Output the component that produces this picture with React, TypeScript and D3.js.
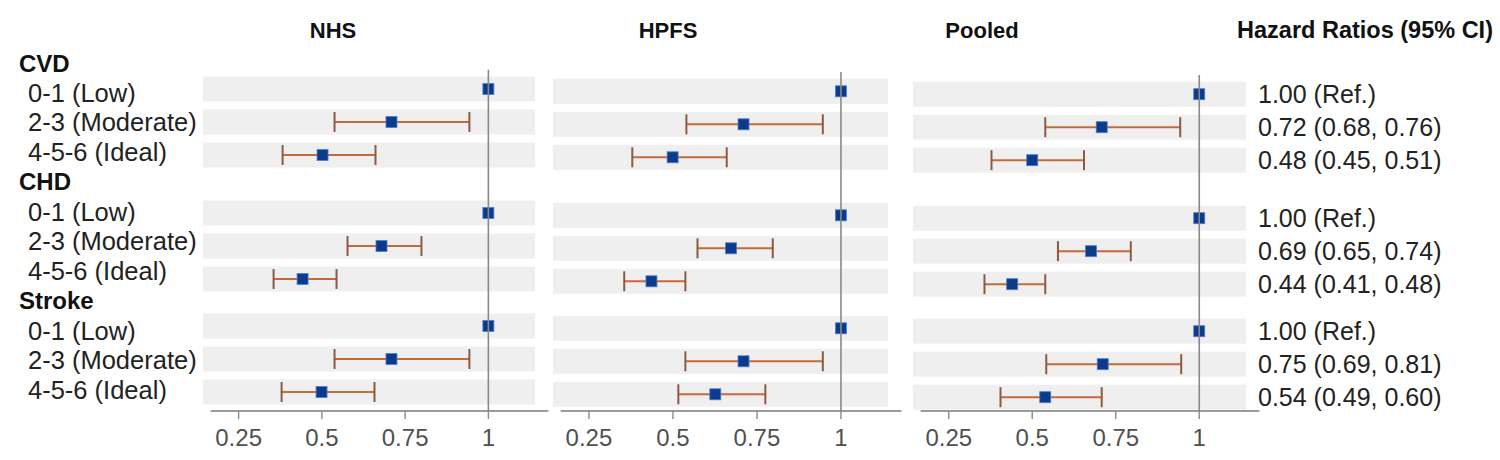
import React from "react";
import * as d3 from "d3";

// ---------- data ----------
const panelTitles = ["NHS", "HPFS", "Pooled"];
const outcomes = ["CVD", "CHD", "Stroke"];
const levels = ["0-1 (Low)", "2-3 (Moderate)", "4-5-6 (Ideal)"];

// estimate, lower, upper per row (outcome x level); reference rows have no CI
const nhsEst = [1, 0.709, 0.502, 1, 0.679, 0.442, 1, 0.709, 0.499];
const nhsLo = [1, 0.538, 0.382, 1, 0.577, 0.355, 1, 0.538, 0.379];
const nhsHi = [1, 0.943, 0.661, 1, 0.799, 0.544, 1, 0.943, 0.658];

const hpfsEst = [1, 0.71, 0.499, 1, 0.673, 0.436, 1, 0.71, 0.626];
const hpfsLo = [1, 0.54, 0.379, 1, 0.573, 0.355, 1, 0.537, 0.516];
const hpfsHi = [1, 0.946, 0.66, 1, 0.797, 0.537, 1, 0.946, 0.775];

const pooledEst = [1, 0.708, 0.5, 1, 0.676, 0.44, 1, 0.711, 0.539];
const pooledLo = [1, 0.539, 0.378, 1, 0.577, 0.357, 1, 0.542, 0.405];
const pooledHi = [1, 0.943, 0.655, 1, 0.795, 0.539, 1, 0.946, 0.708];

const hrLabels = [
  "1.00 (Ref.)",
  "0.72 (0.68, 0.76)",
  "0.48 (0.45, 0.51)",
  "1.00 (Ref.)",
  "0.69 (0.65, 0.74)",
  "0.44 (0.41, 0.48)",
  "1.00 (Ref.)",
  "0.75 (0.69, 0.81)",
  "0.54 (0.49, 0.60)",
];
const hrTitle = "Hazard Ratios (95% CI)";
const tickValues = [0.25, 0.5, 0.75, 1];
const tickLabels = ["0.25", "0.5", "0.75", "1"];

// ---------- layout ----------
const FONT = "'Liberation Sans', Arial, Helvetica, sans-serif";
const panels = [
  { title: panelTitles[0], est: nhsEst, lo: nhsLo, hi: nhsHi, left: 203, right: 535, dy: -2.3, titleX: 333 },
  { title: panelTitles[1], est: hpfsEst, lo: hpfsLo, hi: hpfsHi, left: 553, right: 888, dy: 0, titleX: 668 },
  { title: panelTitles[2], est: pooledEst, lo: pooledLo, hi: pooledHi, left: 913, right: 1246, dy: 2.9, titleX: 982 },
];
const X_DOMAIN: [number, number] = [0.143, 1.14];
const ROW_Y0 = 91.3;
const ROW_STEP = 33;
const GROUP_SHIFT = [0, 25, 39];
const AXIS_Y = 411;
const BAND_H = 25;

const rowY = (i: number) => ROW_Y0 + i * ROW_STEP + GROUP_SHIFT[Math.floor(i / 3)];

// left-hand label column: one slot per header and per level
const labelSlots = d3.range(outcomes.length * (levels.length + 1));
const labelY = d3.scalePoint<number>().domain(labelSlots).range([63, 390]);

function Panel({ p }: { p: (typeof panels)[number] }) {
  const x = d3.scaleLinear().domain(X_DOMAIN).range([p.left, p.right]);
  const rows = d3.range(p.est.length);
  const capH = 20;
  return (
    <g>
      <text x={p.titleX} y={38} textAnchor="middle" fontFamily={FONT} fontWeight="bold" fontSize={22} fill="#111">
        {p.title}
      </text>
      {rows.map((i) => (
        <rect key={"b" + i} x={p.left} width={p.right - p.left} y={rowY(i) + p.dy - BAND_H / 2} height={BAND_H} fill="#efefef" />
      ))}
      {rows.map((i) => {
        const y = rowY(i) + p.dy;
        if (p.lo[i] === p.hi[i]) return null;
        return (
          <g key={"ci" + i}>
            <line x1={x(p.lo[i])} x2={x(p.hi[i])} y1={y} y2={y} stroke="#c66a3c" strokeWidth={2} />
            <line x1={x(p.lo[i])} x2={x(p.lo[i])} y1={y - capH / 2} y2={y + capH / 2} stroke="#8a5a45" strokeWidth={2} />
            <line x1={x(p.hi[i])} x2={x(p.hi[i])} y1={y - capH / 2} y2={y + capH / 2} stroke="#8a5a45" strokeWidth={2} />
          </g>
        );
      })}
      {rows.map((i) => {
        const y = rowY(i) + p.dy;
        return (
          <rect key={"m" + i} x={x(p.est[i]) - 5.5} y={y - 5.5} width={11} height={11} fill="#0c3a8c" stroke="#4f7fcf" strokeWidth={0.8} />
        );
      })}
      <line x1={x(1)} x2={x(1)} y1={72 + p.dy} y2={AXIS_Y} stroke="#8a8a8a" strokeWidth={1.6} />
      <line x1={x(0.166)} x2={x(1.18)} y1={AXIS_Y} y2={AXIS_Y} stroke="#7a7a7a" strokeWidth={1.6} />
      {tickValues.map((t, k) => (
        <g key={"t" + k}>
          <line x1={x(t)} x2={x(t)} y1={AXIS_Y} y2={AXIS_Y + 8} stroke="#8a8a8a" strokeWidth={1.4} />
          <text x={x(t)} y={AXIS_Y + 35} textAnchor="middle" fontFamily={FONT} fontSize={24} fill="#505050">
            {tickLabels[k]}
          </text>
        </g>
      ))}
    </g>
  );
}

export default function App() {
  const pooled = panels[2];
  const per = levels.length + 1;
  return (
    <svg width={1500} height={460} style={{ position: "absolute", left: 0, top: 0, background: "#fff" }}>
      <rect width={1500} height={460} fill="#fff" />
      {outcomes.map((o, g) => (
        <text key={o} x={19} y={(labelY(g * per) as number) + 8.5} fontFamily={FONT} fontWeight="bold" fontSize={24} fill="#111">
          {o}
        </text>
      ))}
      {outcomes.map((o, g) =>
        levels.map((l, k) => (
          <text key={o + l} x={28} y={(labelY(g * per + k + 1) as number) + 9} fontFamily={FONT} fontSize={25.5} fill="#222">
            {l}
          </text>
        ))
      )}
      {panels.map((p) => (
        <Panel key={p.title} p={p} />
      ))}
      <text x={1365} y={38} textAnchor="middle" fontFamily={FONT} fontWeight="bold" fontSize={23.5} fill="#111">
        {hrTitle}
      </text>
      {hrLabels.map((h, i) => (
        <text key={"hr" + i} x={1258} y={rowY(i) + pooled.dy + 8.5} fontFamily={FONT} fontSize={25} fill="#222">
          {h}
        </text>
      ))}
    </svg>
  );
}
